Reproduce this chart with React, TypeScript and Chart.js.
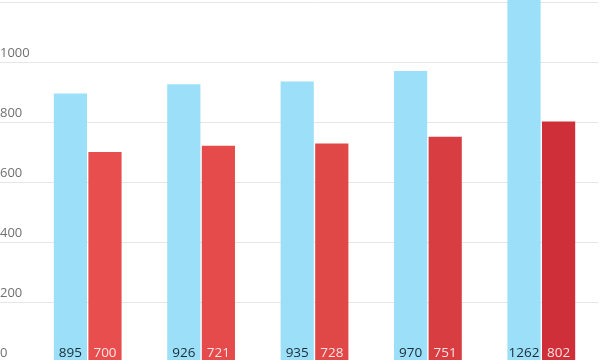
import React, { useEffect, useRef } from "react";
import { Chart, registerables } from "chart.js";

Chart.register(...registerables);

const categories = ["1", "2", "3", "4", "5"];
const seriesA = [895, 926, 935, 970, 1262];
const seriesB = [700, 721, 728, 751, 802];
const tickValues = [0, 200, 400, 600, 800, 1000, 1200];
const blueColor = "#9be0f8";
const redColors = ["#e84e4e", "#e54b4b", "#e04747", "#d83e41", "#cf2f39"];

const valueLabels = {
  id: "valueLabels",
  afterDatasetsDraw(chart: any) {
    const ctx = chart.ctx;
    const yScale = chart.scales.y;
    const baseY = yScale.getPixelForValue(0) - 5;
    ctx.save();
    ctx.font = "13.5px 'Open Sans'";
    ctx.textAlign = "center";
    ctx.textBaseline = "alphabetic";
    chart.data.datasets.forEach((ds: any, di: number) => {
      const meta = chart.getDatasetMeta(di);
      meta.data.forEach((bar: any, i: number) => {
        ctx.fillStyle = di === 0 ? "#1c2a36" : "rgba(255,240,240,0.92)";
        ctx.fillText(String(ds.data[i]), bar.x, baseY);
      });
    });
    ctx.restore();
  },
};

export default function App() {
  const ref = useRef<HTMLCanvasElement>(null);
  useEffect(() => {
    if (!ref.current) return;
    const chart = new Chart(ref.current, {
      type: "bar",
      data: {
        labels: categories,
        datasets: [
          { label: "A", data: seriesA, backgroundColor: blueColor },
          { label: "B", data: seriesB, backgroundColor: redColors },
        ],
      },
      options: {
        responsive: false,
        animation: false,
        layout: { padding: { left: 0, right: 2, top: 0, bottom: 0 } },
        plugins: { legend: { display: false }, tooltip: { enabled: false } },
        datasets: { bar: { categoryPercentage: 0.61, barPercentage: 0.96 } },
        scales: {
          x: { display: false },
          y: {
            min: 0,
            max: 1206.67,
            border: { display: false },
            grid: { color: "#e6e6e6", lineWidth: 1, drawTicks: true, tickLength: 31 },
            afterBuildTicks: (scale: any) => {
              scale.ticks = tickValues.map((v) => ({ value: v }));
            },
            afterFit: (scale: any) => {
              scale.width = 31;
              scale.paddingTop = 0;
              scale.paddingBottom = 0;
            },
            ticks: {
              padding: 0,
              crossAlign: "far",
              labelOffset: -9,
              color: "#707070",
              font: { family: "'Open Sans'", size: 13 },
              callback: (v: any) => String(v),
            },
          },
        },
      },
      plugins: [valueLabels],
    });
    return () => chart.destroy();
  }, []);
  return (
    <div style={{ position: "fixed", left: 0, top: 0, width: 600, height: 360, overflow: "hidden", background: "#fff" }}>
      <canvas ref={ref} width={600} height={362} style={{ display: "block" }} />
    </div>
  );
}
